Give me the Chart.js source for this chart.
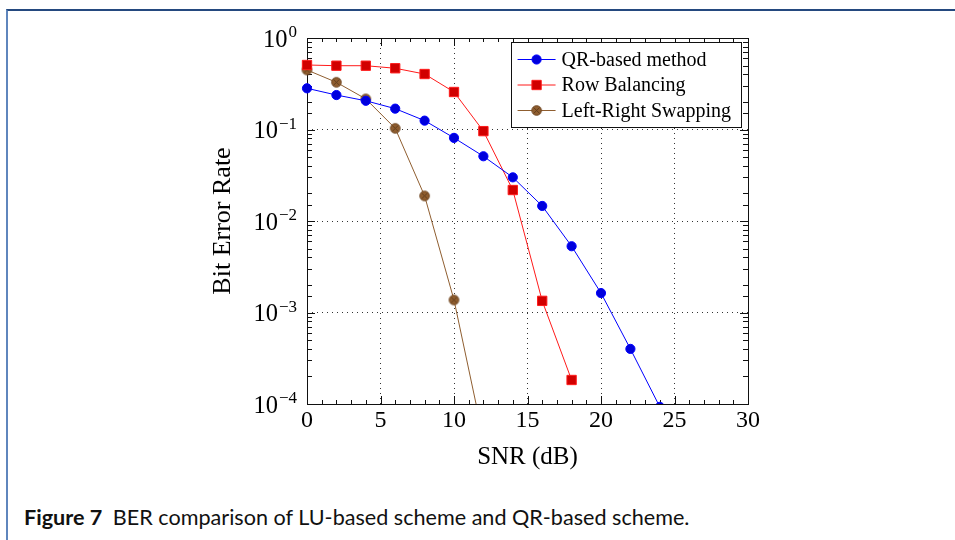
<!DOCTYPE html>
<html>
<head>
<meta charset="utf-8">
<script src="https://cdn.jsdelivr.net/npm/chart.js@4.4.1/dist/chart.umd.min.js"></script>
<style>
  html, body { margin: 0; padding: 0; background: #fff; }
  #page { position: relative; width: 955px; height: 540px; overflow: hidden; }
  #frame { position: absolute; left: 6px; top: 9px; right: -4px; bottom: -4px;
           border-top: 2px solid #24497f; border-left: 2px solid #5f86bd; }
  #chart { position: absolute; left: 0; top: 0; }
  #caption { position: absolute; left: 24px; top: 504px; font-family: Lato, "Open Sans", sans-serif;
             font-size: 21.6px; color: #111; white-space: nowrap; }
  #caption b { font-weight: 700; margin-right: 5px; }
</style>
</head>
<body>
<div id="page">
  <div id="frame"></div>
  <canvas id="chart" width="955" height="490"></canvas>
  <div id="caption"><b>Figure 7</b> BER comparison of LU-based scheme and QR-based scheme.</div>
</div>
<script>
// SNR points (dB) and measured bit error rates
const snr = [0, 2, 4, 6, 8, 10, 12, 14, 16, 18, 20, 22, 24];
const qrBased = [0.282, 0.238, 0.206, 0.169, 0.125, 0.081, 0.051, 0.030, 0.0146, 0.0053, 0.00163, 0.0004, 0.000093];
const rowBalancing = [0.507, 0.498, 0.498, 0.467, 0.404, 0.257, 0.096, 0.0218, 0.00134, 0.000183];
const leftRightSwapping = [0.447, 0.328, 0.216, 0.103, 0.0188, 0.00137, 0.000042];
const seriesNames = ['QR-based method', 'Row Balancing', 'Left-Right Swapping'];
const xTickValues = [0, 5, 10, 15, 20, 25, 30];
const yDecades = [0, -1, -2, -3, -4];

const SERIF = '"Liberation Serif", "DejaVu Serif", serif';

// circle with a cross inside (otimes marker)
function otimesMarker(r, fill, stroke) {
  const c = document.createElement('canvas');
  const s = Math.ceil(2 * r + 3);
  c.width = s; c.height = s;
  const g = c.getContext('2d');
  const m = s / 2;
  g.beginPath(); g.arc(m, m, r, 0, Math.PI * 2);
  g.fillStyle = fill; g.fill();
  g.lineWidth = 1; g.strokeStyle = stroke; g.stroke();
  const d = r * 0.62;
  g.beginPath();
  g.moveTo(m - d, m - d); g.lineTo(m + d, m + d);
  g.moveTo(m - d, m + d); g.lineTo(m + d, m - d);
  g.strokeStyle = '#5b3a1c'; g.lineWidth = 0.9; g.stroke();
  return c;
}

function series(label, values, line, fill, style, radius) {
  return {
    label,
    data: values.map((v, i) => ({ x: snr[i], y: v })),
    borderColor: line,
    backgroundColor: fill,
    borderWidth: 1,
    pointStyle: style,
    pointRadius: radius,
    pointBorderColor: line,
    pointBackgroundColor: fill,
    pointBorderWidth: 1,
    tension: 0,
    clip: { left: 10, top: 10, right: 10, bottom: 0 }
  };
}

const isDecade = v => Math.abs(Math.log10(v) - Math.round(Math.log10(v))) < 1e-6;

// box frame with inward ticks on all four sides
const framePlugin = {
  id: 'frameTicks',
  beforeDatasetsDraw(chart) {
    const { ctx, chartArea: a, scales: { x, y } } = chart;
    ctx.save();
    ctx.strokeStyle = '#111';
    ctx.lineWidth = 1;
    ctx.beginPath();
    y.ticks.forEach(t => {
      const py = Math.round(y.getPixelForValue(t.value)) + 0.5;
      const len = isDecade(t.value) ? 8 : 5;
      ctx.moveTo(a.left, py); ctx.lineTo(a.left + len, py);
      ctx.moveTo(a.right, py); ctx.lineTo(a.right - len, py);
    });
    for (let v = x.min; v <= x.max; v += 1) {
      const px = Math.round(x.getPixelForValue(v)) + 0.5;
      const len = v % 5 === 0 ? 8 : 4;
      ctx.moveTo(px, a.bottom); ctx.lineTo(px, a.bottom - len);
      ctx.moveTo(px, a.top); ctx.lineTo(px, a.top + len);
    }
    ctx.stroke();
    ctx.strokeRect(Math.round(a.left) + 0.5, Math.round(a.top) + 0.5,
                   Math.round(a.right - a.left), Math.round(a.bottom - a.top));
    ctx.restore();
  },
  afterDraw(chart) {
    const { ctx, chartArea: a, scales: { y } } = chart;
    ctx.save();
    ctx.fillStyle = '#000';
    // decade labels 10^k
    yDecades.forEach(e => {
      const py = y.getPixelForValue(Math.pow(10, e));
      const exp = e === 0 ? '0' : '\u2212' + Math.abs(e);
      const right = a.left - 10;
      ctx.font = '17px ' + SERIF;
      ctx.textAlign = 'right';
      ctx.textBaseline = 'alphabetic';
      const ew = ctx.measureText(exp).width;
      ctx.fillText(exp, right, py + 8 - 9);
      ctx.font = '24.5px ' + SERIF;
      ctx.fillText('10', right - ew - 1, py + 8.5);
    });

    // legend
    const sets = chart.data.datasets;
    ctx.font = '20px ' + SERIF;
    const maxW = Math.max(...sets.map(d => ctx.measureText(d.label).width));
    const rowH = 25.5;
    const boxW = 7 + 38 + 6 + maxW + 10;
    const boxH = rowH * sets.length + 8;
    const bx = a.right - 7 - boxW;
    const by = a.top + 4;
    ctx.fillStyle = '#fff';
    ctx.fillRect(bx, by, boxW, boxH);
    ctx.strokeStyle = '#111';
    ctx.lineWidth = 1;
    ctx.strokeRect(Math.round(bx) + 0.5, Math.round(by) + 0.5, Math.round(boxW), Math.round(boxH));
    sets.forEach((d, i) => {
      const cy = by + 17.5 + i * rowH;
      const lx = bx + 7;
      ctx.strokeStyle = d.borderColor;
      ctx.lineWidth = 1;
      ctx.beginPath(); ctx.moveTo(lx, cy); ctx.lineTo(lx + 38, cy); ctx.stroke();
      ctx.fillStyle = d.pointBackgroundColor;
      ctx.strokeStyle = d.pointBorderColor;
      Chart.helpers.drawPoint(ctx, {
        pointStyle: d.pointStyle, radius: d.pointRadius, borderWidth: 1, rotation: 0
      }, lx + 19, cy);
      ctx.fillStyle = '#000';
      ctx.textAlign = 'left';
      ctx.textBaseline = 'middle';
      ctx.font = '20px ' + SERIF;
      ctx.fillText(d.label, lx + 44, cy + 1);
    });
    ctx.restore();
  }
};

new Chart(document.getElementById('chart'), {
  type: 'line',
  data: {
    datasets: [
      series(seriesNames[0], qrBased, '#0000ff', '#0000dd', 'circle', 4.6),
      series(seriesNames[1], rowBalancing, '#ff1a1a', '#d10000', 'rect', 6.6),
      series(seriesNames[2], leftRightSwapping, '#8f5e30', '#8f5d2e', otimesMarker(4.8, '#8f5d2e', '#6e4622'), 5)
    ]
  },
  options: {
    responsive: false,
    animation: false,
    events: [],
    layout: { padding: { left: 207, right: 207, top: 38, bottom: 17 } },
    plugins: { legend: { display: false }, tooltip: { enabled: false } },
    scales: {
      x: {
        type: 'linear', min: 0, max: 30,
        afterBuildTicks: s => { s.ticks = xTickValues.map(v => ({ value: v })); },
        ticks: { font: { family: SERIF, size: 24 }, color: '#000', padding: 2, maxRotation: 0 },
        grid: {
          drawTicks: false, lineWidth: 1,
          color: c => (c.tick && c.tick.value > 0 && c.tick.value < 30) ? '#333' : 'rgba(0,0,0,0)'
        },
        border: { display: false, dash: [1, 4] },
        title: { display: true, text: 'SNR (dB)', color: '#000', font: { family: SERIF, size: 25 }, padding: { top: 0, bottom: 1 } },
        afterFit: s => { s.height = 69; }
      },
      y: {
        type: 'logarithmic', min: 1e-4, max: 1,
        ticks: { display: false },
        grid: {
          drawTicks: false, lineWidth: 1,
          color: c => (c.tick && isDecade(c.tick.value) && c.tick.value > 1.5e-4 && c.tick.value < 0.9) ? '#333' : 'rgba(0,0,0,0)'
        },
        border: { display: false, dash: [1, 4] },
        title: { display: true, text: 'Bit Error Rate', color: '#000', font: { family: SERIF, size: 26 }, padding: { top: 1, bottom: 0 } },
        afterFit: s => { s.width = 100; }
      }
    }
  },
  plugins: [framePlugin]
});
</script>
</body>
</html>
